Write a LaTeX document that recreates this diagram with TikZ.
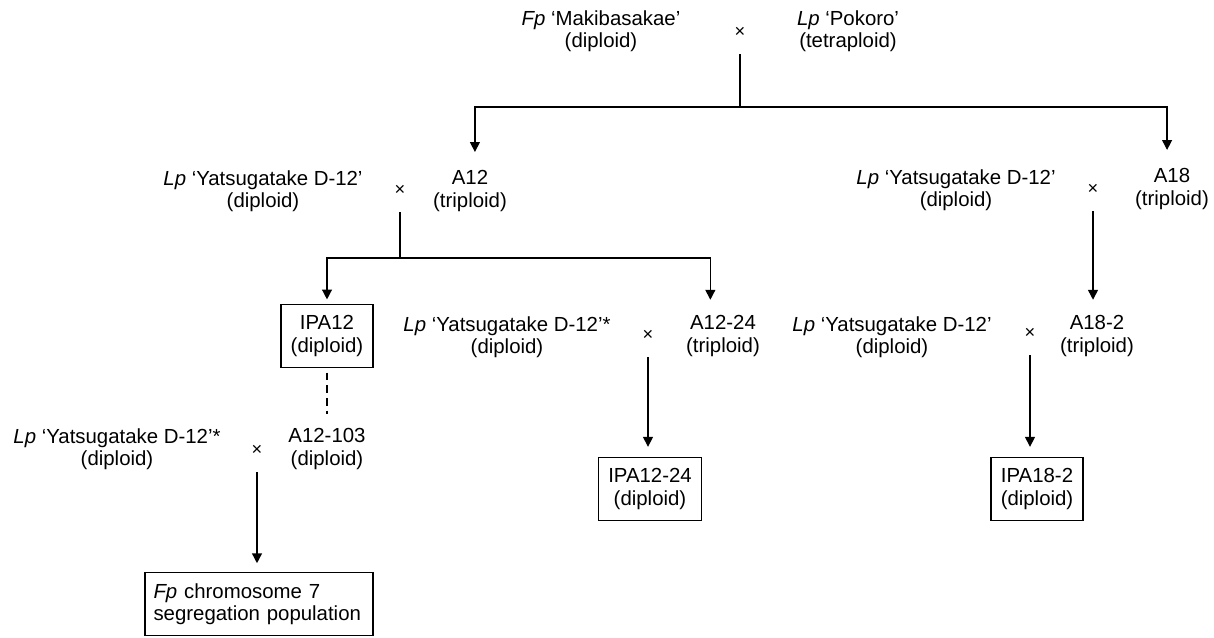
\documentclass[tikz,border=0pt]{standalone}
\usepackage{fontspec}
\setmainfont{Liberation Sans}
\usetikzlibrary{arrows.meta}
\tikzset{
  etiq/.style={align=center,font=\fontsize{14.5}{16}\selectfont,inner sep=2pt},
  boite/.style={etiq,draw,line width=1pt,inner xsep=7pt,minimum height=45pt},
  croix/.style={font=\fontsize{13}{14}\selectfont,inner sep=0pt,minimum height=31pt},
  trait/.style={line width=1pt},
  fleche/.style={trait,-{Triangle[length=7pt,width=7pt]}},
}
\begin{document}
\begin{tikzpicture}[x=0.025cm,y=-0.025cm]
  \useasboundingbox (0,0) rectangle (1214,637);
  % croisement de depart
  \node[etiq] (mak) at (601,31) {\textit{Fp} ‘Makibasakae’\\(diploid)};
  \node[croix] (xTop) at (740,32) {×};
  \node[etiq] (pok) at (848,31) {\textit{Lp} ‘Pokoro’\\(tetraploid)};
  \coordinate (jTop) at (740,107);
  \node[etiq] (a12) at (470,191) {A12\\(triploid)};
  \node[etiq] (a18) at (1172,189) {A18\\(triploid)};
  \draw[trait] (xTop.south) -- (jTop);
  \draw[fleche,shorten >=11pt] (jTop) -| ([xshift=3.5pt]a12.north);
  \draw[fleche,shorten >=11pt] (jTop) -| ([xshift=-3.5pt]a18.north);
  % branche A12
  \node[etiq] (yat1) at (263,191) {\textit{Lp} ‘Yatsugatake D-12’\\(diploid)};
  \node[croix] (x1) at (400,190) {×};
  \coordinate (j1) at (400,258);
  \node[boite] (ipa12) at (327,336) {IPA12\\(diploid)};
  \node[etiq] (yat2) at (507,337) {\textit{Lp} ‘Yatsugatake D-12’*\\(diploid)};
  \node[croix] (x2) at (648,335) {×};
  \node[etiq] (a1224) at (723,336) {A12-24\\(triploid)};
  \node[boite] (ipa1224) at (650,489) {IPA12-24\\(diploid)};
  \draw[trait] (x1.south) -- (j1);
  \draw[fleche,shorten >=3pt] (j1) -| (ipa12.north);
  \draw[fleche,shorten >=9pt] (j1) -| ([xshift=-9pt]a1224.north);
  \draw[fleche,shorten >=7pt] (x2.south) -- (x2.south |- ipa1224.north);
  % lignee A12-103
  \node[etiq] (a12103) at (327,449) {A12-103\\(diploid)};
  \node[etiq] (yat3) at (117,449) {\textit{Lp} ‘Yatsugatake D-12’*\\(diploid)};
  \node[croix] (x3) at (257,450) {×};
  \node[boite,align=left,text width=150pt,inner xsep=6pt] (pop) at (259,604) {\textit{Fp} chromosome 7\\segregation population};
  \draw[trait,dash pattern=on 5.5pt off 3.5pt,shorten <=3pt,shorten >=8pt] (ipa12.south) -- (a12103.north);
  \draw[fleche,shorten >=6pt] (x3.south) -- (x3.south |- pop.north);
  % branche A18
  \node[etiq] (yat4) at (956,190) {\textit{Lp} ‘Yatsugatake D-12’\\(diploid)};
  \node[croix] (x4) at (1093,189) {×};
  \node[etiq] (a182) at (1097,336) {A18-2\\(triploid)};
  \node[etiq] (yat5) at (892,337) {\textit{Lp} ‘Yatsugatake D-12’\\(diploid)};
  \node[croix] (x5) at (1030,333) {×};
  \node[boite] (ipa182) at (1037,489) {IPA18-2\\(diploid)};
  \draw[fleche,shorten >=9pt] (x4.south) -- (x4.south |- a182.north);
  \draw[fleche,shorten >=7pt] (x5.south) -- (x5.south |- ipa182.north);
\end{tikzpicture}
\end{document}
